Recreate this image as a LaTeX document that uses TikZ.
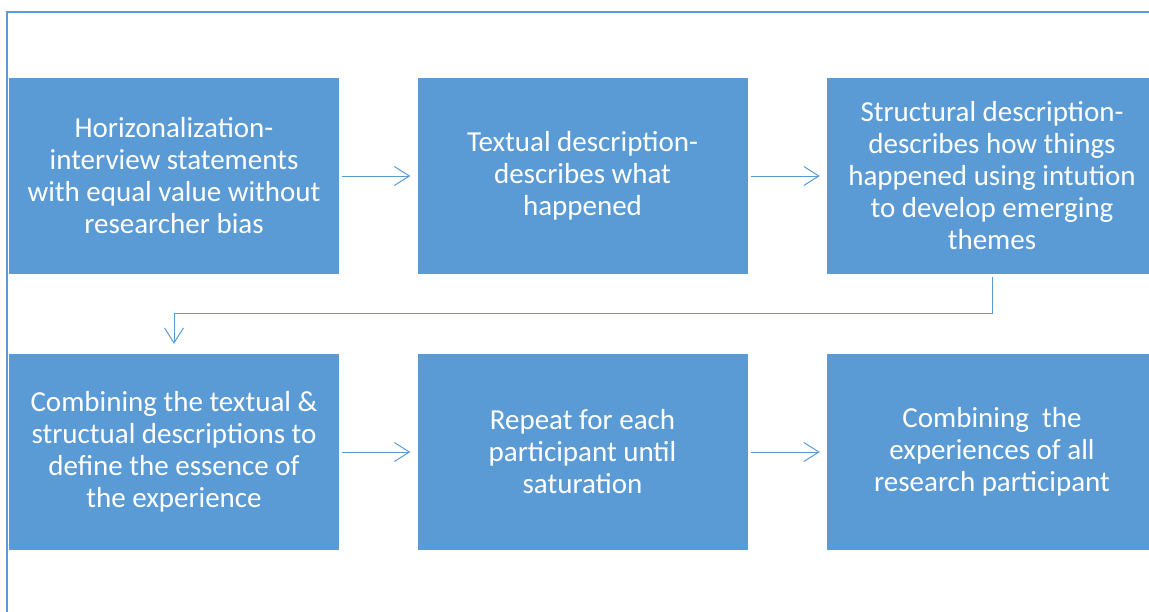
\documentclass[tikz,border=0pt]{standalone}
\usepackage{fontspec}
\setmainfont{Carlito}
\usetikzlibrary{arrows.meta}
\definecolor{boxblue}{HTML}{5B9BD5}

\begin{document}
\begin{tikzpicture}[x=1pt,y=-1pt,
		stage/.style={fill=boxblue, draw=none, text=white, align=center,
			minimum width=330pt, minimum height=196pt, inner sep=0pt,
			font=\fontsize{29}{32}\selectfont},
		flow/.style={draw=boxblue, line width=1pt, shorten <=3pt, shorten >=7pt,
			-{Straight Barb[length=15pt,width=19pt]}}]
		\useasboundingbox (0,0) rectangle (1149,611);
		
		% Draw the outer frame
		\draw[boxblue, line width=2pt] (7,640) -- (7,12) -- (1170,12);
		
		\node[stage] (s1) at (174,176) {Horizonalization-\\interview statements\\with equal value without\\researcher bias};
		\node[stage] (s2) at (582.5,176) {Textual description-\\describes what\\happened};
		\node[stage] (s3) at (992,176) {Structural description-\\describes how things\\happened using intution\\to develop emerging\\themes};
		\node[stage] (s4) at (174,452) {Combining the textual \&\\structual descriptions to\\define the essence of\\the experience};
		\node[stage] (s5) at (582.5,452) {Repeat for each\\participant until\\saturation};
		\node[stage] (s6) at (992,452) {Combining~ the\\experiences of all\\research participant};
		\coordinate (turn) at (992,313);
		
		% Draw the arrows between the stages
		\foreach \a/\b in {s1/s2, s2/s3, s4/s5, s5/s6} {
			\draw[flow] (\a) -- (\b);
		}
		
		\draw[flow, shorten >=10pt] (s3.south) -- (turn) -| (s4.north);
	\end{tikzpicture}
\end{document}
